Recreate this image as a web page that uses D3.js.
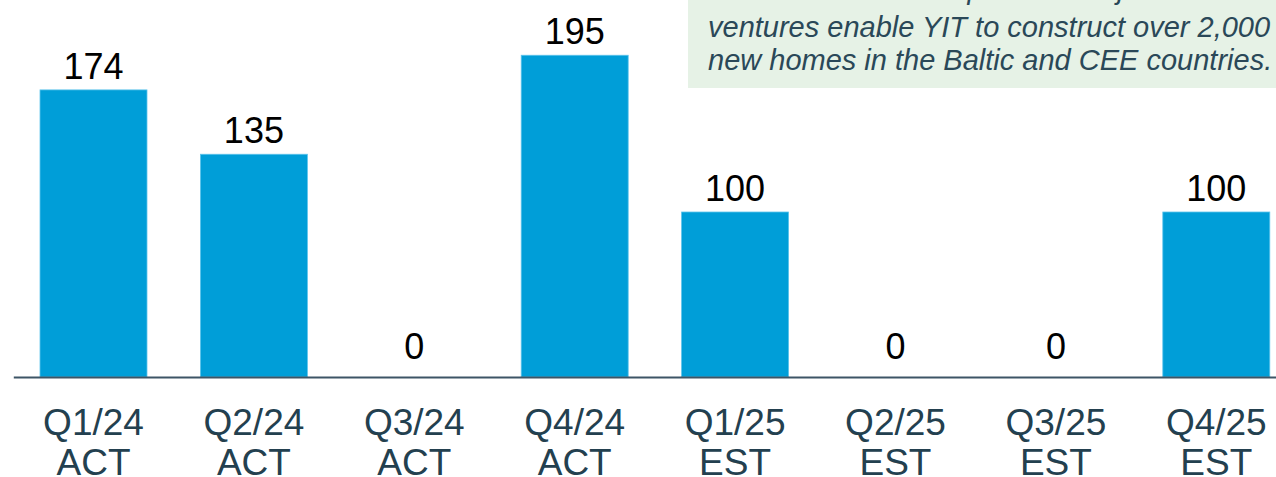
<!DOCTYPE html>
<html>
<head>
<meta charset="utf-8">
<script src="https://cdn.jsdelivr.net/npm/d3@7"></script>
<style>
  html, body { margin: 0; padding: 0; background: #fff; overflow: hidden; }
  svg { display: block; font-family: "Liberation Sans", Arial, sans-serif; }
</style>
</head>
<body>
<svg id="chart" width="1276" height="477"></svg>
<script>
// Quarters, status and completed homes
const quarters = ["Q1/24", "Q2/24", "Q3/24", "Q4/24", "Q1/25", "Q2/25", "Q3/25", "Q4/25"];
const status = ["ACT", "ACT", "ACT", "ACT", "EST", "EST", "EST", "EST"];
const homes = [174, 135, 0, 195, 100, 0, 0, 100];

// Note box lines
const noteLines = [
    "The associated companies and joint",
    "ventures enable YIT to construct over 2,000",
    "new homes in the Baltic and CEE countries."
];

const width = 1276, height = 477;
const baseY = 377;

const svg = d3.select("#chart");

// Scales
let x = d3.scaleBand()
    .domain(quarters)
    .range([13.3, 1296.5])
    .paddingInner(0.333)
    .paddingOuter(0.1665);

let y = d3.scaleLinear()
    .domain([0, 200])
    .range([baseY, baseY - 330]);

// Bars
svg.append("g")
    .selectAll("rect")
    .data(homes)
    .join("rect")
    .attr("x", (d, i) => x(quarters[i]))
    .attr("width", x.bandwidth())
    .attr("y", d => y(d))
    .attr("height", d => baseY - y(d))
    .attr("fill", "#009ed8")
    .attr("stroke", "#5cc4ec")
    .attr("stroke-width", 0.8)
    .attr("display", d => d > 0 ? null : "none");

// Value labels
svg.append("g")
    .selectAll("text")
    .data(homes)
    .join("text")
    .attr("x", (d, i) => x(quarters[i]) + x.bandwidth() / 2)
    .attr("y", d => d > 0 ? y(d) - 11 : baseY - 18)
    .attr("text-anchor", "middle")
    .attr("font-size", 36)
    .attr("fill", "#000")
    .text(d => d);

// X axis
let xAxis = svg.append("g")
    .attr("transform", "translate(0," + baseY + ")")
    .call(d3.axisBottom(x).tickSize(0).tickSizeOuter(0).tickFormat(""));

xAxis.select(".domain")
    .attr("stroke", "#3d5566")
    .attr("stroke-width", 2.2);

xAxis.selectAll(".tick text").remove();

let tickLabels = xAxis.selectAll(".tick")
    .append("text")
    .attr("text-anchor", "middle")
    .attr("font-size", 37)
    .attr("fill", "#23404f");

tickLabels.append("tspan")
    .attr("x", 0)
    .attr("y", 58)
    .text(d => d);

tickLabels.append("tspan")
    .attr("x", 0)
    .attr("y", 98)
    .text(d => status[quarters.indexOf(d)]);

// Note box (top right, partly cut off)
let note = svg.append("g");

note.append("rect")
    .attr("x", 688)
    .attr("y", -20)
    .attr("width", 620)
    .attr("height", 108)
    .attr("fill", "#e6f2e6");

note.selectAll("text")
    .data(noteLines)
    .join("text")
    .attr("x", 708)
    .attr("y", (d, i) => i == 0 ? -1 : 4 + i * 33)
    .attr("font-size", 29)
    .attr("font-style", "italic")
    .attr("fill", "#2a4858")
    .text(d => d);
</script>
</body>
</html>
